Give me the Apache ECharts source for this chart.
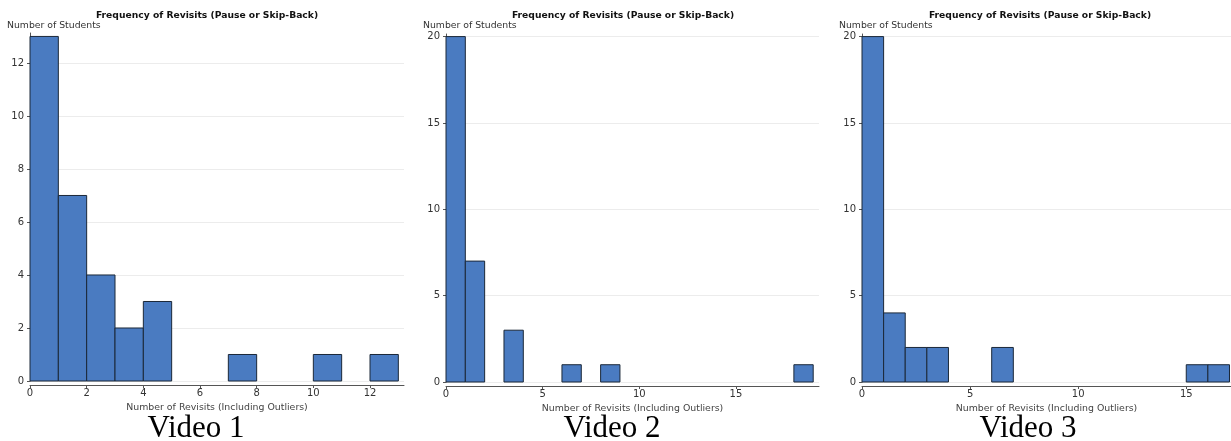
<!DOCTYPE html>
<html>
<head>
<meta charset="utf-8">
<script src="https://cdn.jsdelivr.net/npm/echarts@6/dist/echarts.min.js"></script>
<style>
  html, body { margin: 0; padding: 0; background: #fff; }
  #chart { width: 1231px; height: 441px; }
</style>
</head>
<body>
<div id="chart"></div>
<script>
// histogram bins (start of each 1-wide bin) and student counts
const binStarts1 = [0, 1, 2, 3, 4, 7, 10, 12]
const counts1 = [13, 7, 4, 2, 3, 1, 1, 1]
const binStarts2 = [0, 1, 3, 6, 8, 18]
const counts2 = [20, 7, 3, 1, 1, 1]
const binStarts3 = [0, 1, 2, 3, 6, 15, 16]
const counts3 = [20, 4, 2, 2, 2, 1, 1]
const binWidth = 1

const xTicks1 = 2, yTicks1 = 2
const xTicks23 = 5, yTicks23 = 5

const captions = ['Video 1', 'Video 2', 'Video 3']
const chartTitle = 'Frequency of Revisits (Pause or Skip-Back)'
const yName = 'Number of Students'
const xName = 'Number of Revisits (Including Outliers)'

const font = 'DejaVu Sans'

function toBins(starts, counts) {
    return starts.map((s, i) => [s, s + binWidth, counts[i]])
}

function renderBin(params, api) {
    let p0 = api.coord([api.value(0), 0])
    let p1 = api.coord([api.value(1), api.value(2)])
    return {
        type: 'rect',
        shape: { x: p0[0], y: p1[1], width: p1[0] - p0[0], height: p0[1] - p1[1] },
        style: { fill: '#4a7bc1', stroke: '#1b2838', lineWidth: 1 }
    }
}

function xAxisOf(idx, max, interval) {
    return {
        type: 'value', gridIndex: idx, min: 0, max: max, interval: interval,
        offset: 4,
        name: xName, nameLocation: 'middle', nameGap: 12,
        nameTextStyle: { fontFamily: font, fontSize: 9.4, color: '#444' },
        axisLine: { show: true, onZero: false, lineStyle: { color: '#555', width: 1 } },
        axisTick: { show: true, length: 3, lineStyle: { color: '#555' } },
        axisLabel: { fontFamily: font, fontSize: 10, color: '#333', margin: 3, showMaxLabel: false },
        splitLine: { show: false }
    }
}

function yAxisOf(idx, max, interval) {
    return {
        type: 'value', gridIndex: idx, min: 0, max: max, interval: interval,
        offset: 3,
        axisLine: { show: true, lineStyle: { color: '#555', width: 1 } },
        axisTick: { show: true, length: 3, lineStyle: { color: '#555' } },
        axisLabel: { fontFamily: font, fontSize: 10, color: '#333', margin: 3, showMaxLabel: false },
        splitLine: { show: true, showMaxLine: false, lineStyle: { color: '#ececec', width: 1 } }
    }
}

const panelTitleX = [207, 623, 1040]
const yNameX = [7, 423, 839]
const captionX = [196, 612, 1028]

let titles = []
for (let i = 0; i < 3; i++) {
    titles.push({
        text: chartTitle, left: panelTitleX[i], top: 11, textAlign: 'center', padding: 0,
        textStyle: { fontFamily: font, fontSize: 9.2, fontWeight: 'bold', color: '#111' }
    })
    titles.push({
        text: yName, left: yNameX[i], top: 21, padding: 0,
        textStyle: { fontFamily: font, fontSize: 9.3, fontWeight: 'normal', color: '#333' }
    })
    titles.push({
        text: captions[i], left: captionX[i], top: 413, textAlign: 'center', padding: 0,
        textStyle: { fontFamily: 'Liberation Serif', fontSize: 31, fontWeight: 'normal', color: '#000' }
    })
}

let option = {
    animation: false,
    backgroundColor: '#fff',
    title: titles,
    grid: [
        { left: 30, top: 33, width: 374, height: 348, outerBoundsMode: 'none' },
        { left: 446, top: 34, width: 373, height: 348, outerBoundsMode: 'none' },
        { left: 862, top: 34, width: 369, height: 348, outerBoundsMode: 'none' }
    ],
    xAxis: [
        xAxisOf(0, 13.2, xTicks1),
        xAxisOf(1, 19.3, xTicks23),
        xAxisOf(2, 17.07, xTicks23)
    ],
    yAxis: [
        yAxisOf(0, 13.13, yTicks1),
        yAxisOf(1, 20.15, yTicks23),
        yAxisOf(2, 20.15, yTicks23)
    ],
    series: [
        { type: 'custom', xAxisIndex: 0, yAxisIndex: 0, renderItem: renderBin, data: toBins(binStarts1, counts1) },
        { type: 'custom', xAxisIndex: 1, yAxisIndex: 1, renderItem: renderBin, data: toBins(binStarts2, counts2) },
        { type: 'custom', xAxisIndex: 2, yAxisIndex: 2, renderItem: renderBin, data: toBins(binStarts3, counts3) }
    ]
}

let chart = echarts.init(document.getElementById('chart'))
chart.setOption(option)
window.addEventListener('resize', () => {
    chart.resize()
})
</script>
</body>
</html>
